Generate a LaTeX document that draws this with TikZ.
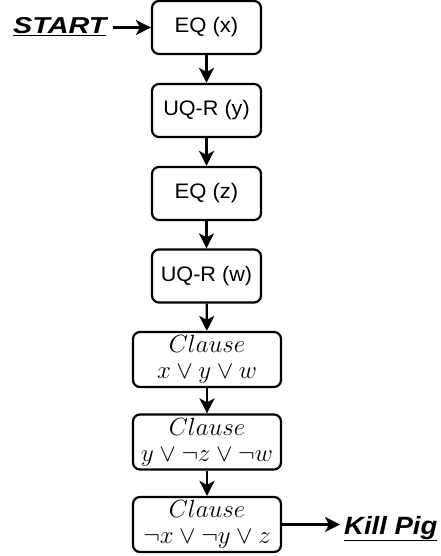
\documentclass[tikz,border=0pt]{standalone}
\usepackage{fontspec}
\newfontfamily\arialf{Liberation Sans}
\usetikzlibrary{arrows.meta}
\begin{document}
\begin{tikzpicture}[x=1pt,y=-1pt,
  box/.style={draw, line width=2.2pt, rounded corners=7pt, inner sep=0pt, align=center},
  sbox/.style={box, minimum width=109pt, minimum height=53pt, font=\arialf\fontsize{21}{24}\selectfont},
  cbox/.style={box, minimum width=148pt, minimum height=55pt, font=\fontsize{24.5}{26}\selectfont},
  arr/.style={line width=2.2pt, -{Stealth[length=15pt,width=15pt,inset=4pt]}},
  lbl/.style={inner sep=0pt, font=\arialf\bfseries\itshape\fontsize{23}{26}\selectfont}
]
\useasboundingbox (0,0) rectangle (441,556);
\node[sbox] (eq1) at (206.5,27.5) {\scalebox{1.05}[1]{EQ (x)}};
\node[sbox] (uq1) at (206.5,110.5) {\scalebox{1.03}[1]{UQ-R (y)}};
\node[sbox] (eq2) at (206.5,193.5) {\scalebox{1.05}[1]{EQ (z)}};
\node[sbox] (uq2) at (206.5,276) {\scalebox{1.03}[1]{UQ-R (w)}};
\node[cbox] (c1) at (207,359.5) {$Clause$\\$x\vee y\vee w$};
\node[cbox] (c2) at (207,442) {$Clause$\\$y\vee\neg z\vee\neg w$};
\node[cbox] (c3) at (207,524.5) {$Clause$\\$\neg x\vee\neg y\vee z$};
\node[lbl, anchor=base west] (start) at (13,34) {\scalebox{1.25}[1]{\underline{START}}};
\node[lbl, anchor=base west, font=\arialf\bfseries\itshape\fontsize{25}{28}\selectfont] (kill) at (344,534) {\scalebox{1.1}[1]{\underline{Kill Pig}}};
\draw[arr] ([xshift=6pt]start.east |- eq1.west) -- (eq1.west);
\draw[arr] (eq1) -- (uq1);
\draw[arr] (uq1) -- (eq2);
\draw[arr] (eq2) -- (uq2);
\draw[arr] (uq2) -- (c1);
\draw[arr] (c1) -- (c2);
\draw[arr] (c2) -- (c3);
\draw[arr] (c3.east) -- ([xshift=-4pt]kill.west |- c3.east);
\end{tikzpicture}
\end{document}
